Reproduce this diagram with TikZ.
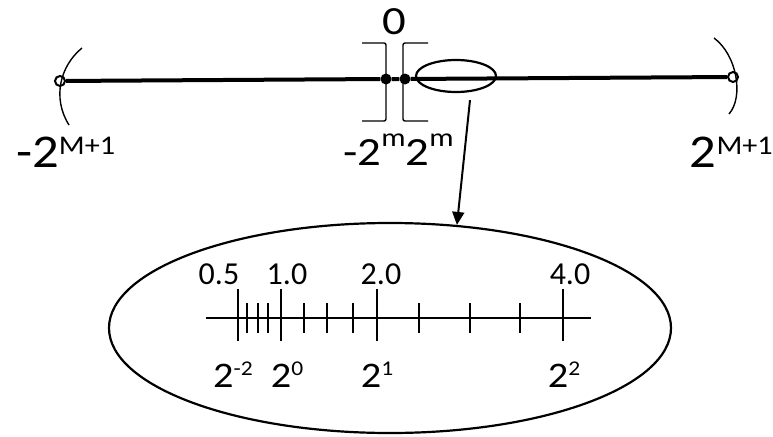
\documentclass[tikz,border=0pt]{standalone}
\usepackage{fontspec}
\setmainfont{Carlito}
\newfontfamily\bigfont[FakeStretch=1.12]{Carlito}
\newfontfamily\widefont[FakeStretch=1.17]{Carlito}
\newfontfamily\powfont[FakeStretch=1.12]{Carlito}
\usetikzlibrary{arrows.meta,shapes.geometric}
\newcommand{\expo}[3]{\raisebox{#1}{\fontsize{#2}{#2}\selectfont #3}}
\tikzset{
  endpt/.style={circle,draw,fill=white,line width=2pt,inner sep=0pt,minimum size=10pt},
  zeropt/.style={circle,fill=black,inner sep=0pt,minimum size=11pt},
  axisline/.style={line width=4pt},
  lens/.style={ellipse,draw,line width=2.2pt,inner sep=0pt},
  zoomarrow/.style={-{Triangle[length=13pt,width=12pt]},line width=2pt},
  bracket/.style={line width=1.4pt,rounded corners=2pt},
  boundarc/.style={line width=1.4pt},
  scaleline/.style={line width=2.2pt},
  bignum/.style={inner sep=0pt,font=\bigfont\fontsize{47}{47}\selectfont},
  midnum/.style={inner sep=0pt,font=\widefont\fontsize{40}{40}\selectfont},
  pownum/.style={inner sep=0pt,font=\powfont\fontsize{36}{36}\selectfont},
  scalenum/.style={inner sep=0pt,font=\fontsize{32}{32}\selectfont},
}
\begin{document}
\begin{tikzpicture}[x=1pt,y=-1pt]
    \useasboundingbox (0,0) rectangle (773,436);
    \node[endpt] (lend) at (60,81) {};
    \node[endpt] (rend) at (733,77) {};
    \node[zeropt] (negm) at (386,79) {};
    \node[zeropt] (posm) at (405,79) {};
    \node[lens,minimum width=80,minimum height=32] (lens) at (456,76) {};
    \node[lens,minimum width=562,minimum height=210] (magnify) at (390,328) {};
    \draw[axisline] (lend) -- (negm) -- (posm) -- (rend);
    \draw[boundarc] (82,48) .. controls (60,66) and (52,98) .. (69,125);
    \draw[boundarc] (714,38) .. controls (737,55) and (744,97) .. (729,114);
    \draw[bracket] (362,43) -- (386,43) -- (386,121) -- (362,121);
    \draw[bracket] (428,43) -- (403,43) -- (403,121) -- (428,121);
    \node[bignum,anchor=base west] (lmax) at (16,167) {-2\expo{13pt}{27pt}{M+1}};
    \node[bignum,anchor=base east] (rmax) at (773,167) {2\expo{13pt}{27pt}{M+1}};
    \node[midnum,anchor=base] (zero) at (394,35) {0};
    \node[midnum,anchor=base west] (mlab) at (343,165) {-2\expo{19pt}{26pt}{m}2\expo{19pt}{26pt}{m}};
    \coordinate (drop) at ([shift={(14,7)}]lens.south);
    \draw[zoomarrow] (drop) -- (magnify.57);
    \draw[scaleline] (206,318) -- (591,318);
    \foreach \x in {238,281,377,563} \draw[scaleline] (\x,289) -- (\x,341);
    \foreach \x in {247,258,268,304,327,353,419,470,520} \draw[scaleline] (\x,303) -- (\x,333);
    \node[scalenum,anchor=base] (vhalf) at (219,284) {0.5};
    \node[scalenum,anchor=base] (vone) at (287,284) {1.0};
    \node[scalenum,anchor=base] (vtwo) at (381,284) {2.0};
    \node[scalenum,anchor=base] (vfour) at (570,284) {4.0};
    \node[pownum,anchor=base] (pm2) at (233,387) {2\expo{12pt}{21pt}{-2}};
    \node[pownum,anchor=base] (p0) at (287,387) {2\expo{12pt}{21pt}{0}};
    \node[pownum,anchor=base] (p1) at (377,387) {2\expo{12pt}{21pt}{1}};
    \node[pownum,anchor=base] (p2) at (564,387) {2\expo{12pt}{21pt}{2}};
  \end{tikzpicture}
\end{document}
